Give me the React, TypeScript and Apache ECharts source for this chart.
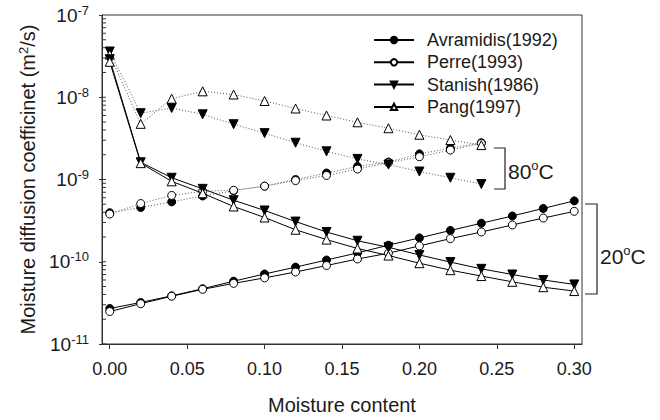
import React, { useEffect, useRef } from 'react';
import * as echarts from 'echarts';

const moisture20 = [0, 0.02, 0.04, 0.06, 0.08, 0.1, 0.12, 0.14, 0.16, 0.18, 0.2, 0.22, 0.24, 0.26, 0.28, 0.3];
const moisture80 = [0, 0.02, 0.04, 0.06, 0.08, 0.1, 0.12, 0.14, 0.16, 0.18, 0.2, 0.22, 0.24];

const avramidis20 = [2.7e-11, 3.2e-11, 3.85e-11, 4.7e-11, 5.8e-11, 7.1e-11, 8.6e-11, 1.05e-10, 1.28e-10, 1.59e-10, 1.95e-10, 2.4e-10, 2.94e-10, 3.6e-10, 4.45e-10, 5.5e-10];
const perre20 = [2.48e-11, 3.09e-11, 3.81e-11, 4.62e-11, 5.46e-11, 6.37e-11, 7.5e-11, 9.0e-11, 1.08e-10, 1.27e-10, 1.56e-10, 1.91e-10, 2.3e-10, 2.8e-10, 3.4e-10, 4.1e-10];
const stanish20 = [2.9e-8, 1.62e-9, 1.05e-9, 7.7e-10, 5.6e-10, 4.2e-10, 3.08e-10, 2.3e-10, 1.8e-10, 1.5e-10, 1.21e-10, 9.9e-11, 8.2e-11, 7.0e-11, 6.0e-11, 5.3e-11];
const pang20 = [2.7e-8, 1.58e-9, 9.5e-10, 6.8e-10, 4.7e-10, 3.45e-10, 2.45e-10, 1.86e-10, 1.45e-10, 1.19e-10, 9.6e-11, 7.9e-11, 6.7e-11, 5.7e-11, 4.9e-11, 4.4e-11];

const avramidis80 = [3.95e-10, 4.57e-10, 5.35e-10, 6.3e-10, 7.3e-10, 8.3e-10, 1.0e-9, 1.2e-9, 1.44e-9, 1.63e-9, 2.05e-9, 2.4e-9, 2.8e-9];
const perre80 = [3.8e-10, 5.1e-10, 6.4e-10, 7.2e-10, 7.4e-10, 8.3e-10, 9.7e-10, 1.12e-9, 1.34e-9, 1.6e-9, 1.89e-9, 2.28e-9, 2.75e-9];
const stanish80 = [3.6e-8, 6.4e-9, 7.4e-9, 6.2e-9, 4.7e-9, 3.66e-9, 2.8e-9, 2.2e-9, 1.78e-9, 1.52e-9, 1.25e-9, 1.05e-9, 8.8e-10];
const pang80 = [3.3e-8, 4.75e-9, 9.6e-9, 1.18e-8, 1.08e-8, 9.0e-9, 7.3e-9, 6.0e-9, 4.96e-9, 4.2e-9, 3.5e-9, 3.02e-9, 2.62e-9];

const legendNames = ['Avramidis(1992)', 'Perre(1993)', 'Stanish(1986)', 'Pang(1997)'];
const xTicks = [0, 0.05, 0.1, 0.15, 0.2, 0.25, 0.3];
const yDecades = [-11, -10, -9, -8];
const yTickMultipliers = [1, 2, 3, 4, 5, 6, 7, 8, 9];

const X_MIN = -0.005;
const X_MAX = 0.305;
const FONT = 'Arial, "Liberation Sans", Helvetica, sans-serif';
const INK = '#1a1a1a';

const pairs = (xs: number[], ys: number[]) => xs.map((x, i) => [x, ys[i]]);

const markerStyles: Record<string, any> = {
  avr: { symbol: 'circle', symbolSize: 8, itemStyle: { color: '#000', borderColor: '#000', borderWidth: 1 } },
  perre: { symbol: 'circle', symbolSize: 8, itemStyle: { color: '#fff', borderColor: '#000', borderWidth: 1 } },
  stanish: { symbol: 'triangle', symbolRotate: 180, symbolSize: 9, itemStyle: { color: '#000', borderColor: '#000', borderWidth: 1 } },
  pang: { symbol: 'triangle', symbolSize: 9, itemStyle: { color: '#fff', borderColor: '#000', borderWidth: 1 } },
};

function lineSeries(name: string, key: string, xs: number[], ys: number[], hot: boolean) {
  return {
    type: 'line',
    name,
    data: pairs(xs, ys),
    ...markerStyles[key],
    showSymbol: true,
    lineStyle: hot
      ? { color: '#555', width: 1, type: [1, 2] }
      : { color: '#000', width: 1, type: 'solid' },
    z: hot ? 2 : 3,
    emphasis: { disabled: true },
  };
}

export default function App() {
  const ref = useRef<HTMLDivElement>(null);
  useEffect(() => {
    if (!ref.current) return;
    const chart = echarts.init(ref.current, null, { renderer: 'svg' });

    const tickData: number[][] = [];
    yDecades.forEach((d) => yTickMultipliers.forEach((m) => tickData.push([X_MIN, m * Math.pow(10, d)])));

    const supRich = {
      b: { fontSize: 19, fontFamily: FONT, color: INK },
      s: { fontSize: 13, fontFamily: FONT, color: INK, padding: [0, 0, 10, 0] },
    };

    const tempRich = {
      a: { fontSize: 21, fontFamily: FONT, fill: INK },
      s: { fontSize: 13, fontFamily: FONT, fill: INK, padding: [0, 0, 12, 0] },
    };

    const option: any = {
      animation: false,
      backgroundColor: '#fff',
      grid: {
        left: 102,
        right: 78,
        top: 15,
        bottom: 69,
        show: true,
        borderColor: '#333',
        borderWidth: 1,
        backgroundColor: 'transparent',
      },
      legend: {
        data: legendNames,
        orient: 'vertical',
        left: 373,
        top: 31,
        padding: 0,
        itemWidth: 40,
        itemHeight: 8,
        itemGap: 4.3,
        selectedMode: false,
        textStyle: { fontSize: 18, fontFamily: FONT, color: INK, lineHeight: 18, padding: [0, 0, 0, 8] },
      },
      xAxis: {
        type: 'value',
        min: X_MIN,
        max: X_MAX,
        name: 'Moisture content',
        nameLocation: 'middle',
        nameGap: 51,
        nameTextStyle: { fontSize: 20, fontFamily: FONT, color: INK },
        axisLine: { show: true, onZero: false, lineStyle: { color: '#333', width: 1 } },
        axisTick: { show: true, length: 5, inside: false, customValues: xTicks, lineStyle: { color: '#333' } },
        axisLabel: {
          customValues: xTicks,
          margin: 16,
          fontSize: 18,
          fontFamily: FONT,
          color: INK,
          formatter: (v: number) => v.toFixed(2),
        },
        splitLine: { show: false },
      },
      yAxis: {
        type: 'log',
        logBase: 10,
        min: 1e-11,
        max: 1e-7,
        name: '{a|Moisture diffusion coefficinet (m}{s|2}{a|/s)}',
        nameLocation: 'middle',
        nameRotate: 90,
        nameGap: 54,
        nameTextStyle: {
          rich: {
            a: { fontSize: 20, fontFamily: FONT, color: INK },
            s: { fontSize: 13, fontFamily: FONT, color: INK, padding: [0, 0, 10, 0] },
          },
        },
        axisLine: { show: true, onZero: false, lineStyle: { color: '#333', width: 1 } },
        axisTick: { show: true, length: 3, inside: false, lineStyle: { color: '#333' } },
        axisLabel: {
          margin: 13,
          formatter: (v: number) => `{b|10}{s|${Math.round(Math.log10(v))}}`,
          rich: supRich,
        },
        splitLine: { show: false },
        minorTick: { show: false },
      },
      series: [
        lineSeries('Avramidis 80', 'avr', moisture80, avramidis80, true),
        lineSeries('Perre 80', 'perre', moisture80, perre80, true),
        lineSeries('Stanish 80', 'stanish', moisture80, stanish80, true),
        lineSeries('Pang 80', 'pang', moisture80, pang80, true),
        lineSeries(legendNames[0], 'avr', moisture20, avramidis20, false),
        lineSeries(legendNames[1], 'perre', moisture20, perre20, false),
        lineSeries(legendNames[2], 'stanish', moisture20, stanish20, false),
        lineSeries(legendNames[3], 'pang', moisture20, pang20, false),
        {
          type: 'custom',
          name: 'yMinorTicks',
          data: tickData,
          encode: { x: 0, y: 1 },
          silent: true,
          clip: false,
          z: 1,
          renderItem: (_params: any, api: any) => {
            const p = api.coord([api.value(0), api.value(1)]);
            return {
              type: 'line',
              shape: { x1: p[0], y1: p[1], x2: p[0] + 4, y2: p[1] },
              style: { stroke: '#333', lineWidth: 1 },
            };
          },
        },
      ],
      graphic: [
        {
          type: 'polyline',
          shape: { points: [[494, 148], [505, 148], [505, 189], [494, 189]] },
          style: { stroke: '#222', lineWidth: 1.2, fill: null },
        },
        {
          type: 'polyline',
          shape: { points: [[585, 204], [597, 204], [597, 294], [585, 294]] },
          style: { stroke: '#222', lineWidth: 1.2, fill: null },
        },
        {
          type: 'text',
          x: 508,
          y: 171,
          style: { text: '{a|80}{s|o}{a|C}', rich: tempRich, verticalAlign: 'middle', align: 'left' },
        },
        {
          type: 'text',
          x: 600,
          y: 256,
          style: { text: '{a|20}{s|o}{a|C}', rich: tempRich, verticalAlign: 'middle', align: 'left' },
        },
      ],
    };

    chart.setOption(option);
    return () => chart.dispose();
  }, []);

  return (
    <div
      ref={ref}
      style={{ position: 'fixed', left: 0, top: 0, width: 660, height: 420, background: '#fff' }}
    />
  );
}
